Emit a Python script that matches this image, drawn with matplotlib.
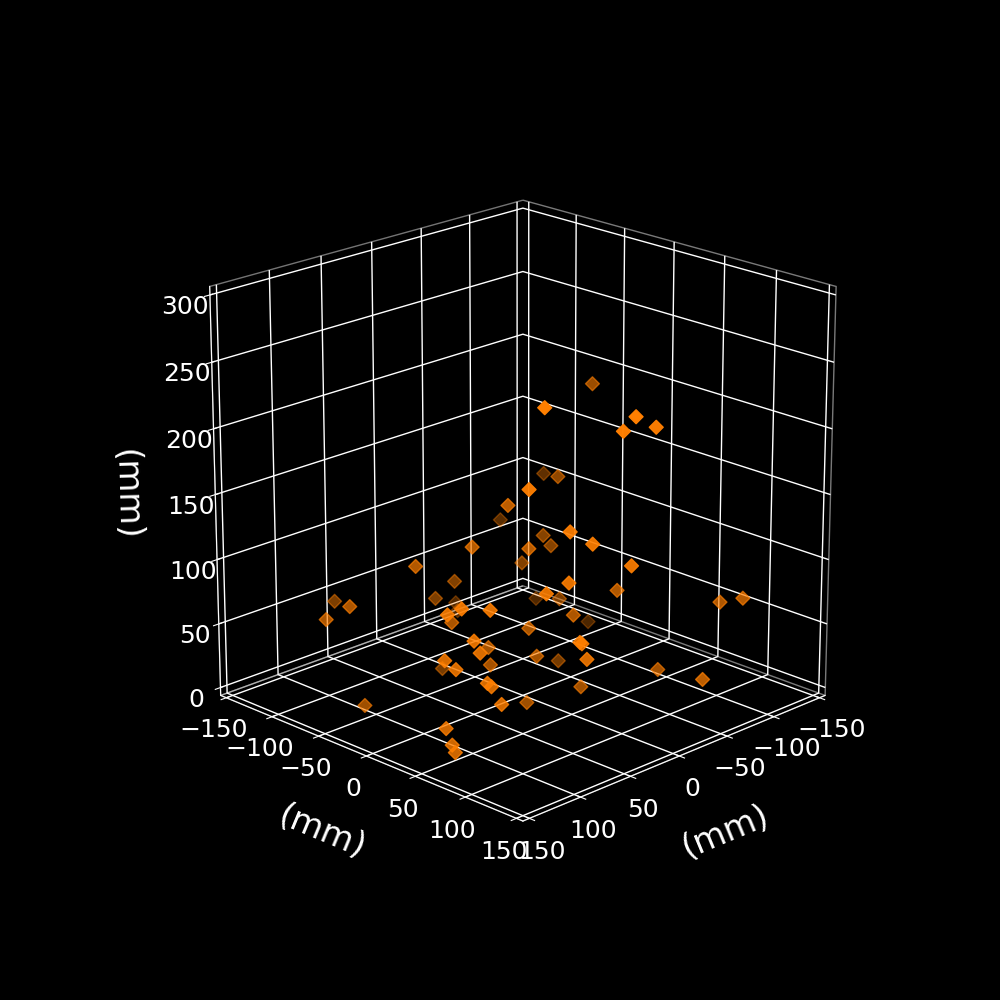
import matplotlib
matplotlib.use('Agg')
import matplotlib.pyplot as plt

plt.style.use('dark_background')
# limits get the small 1/48 margin on each side
plt.rcParams['axes3d.automargin'] = True
plt.rcParams['grid.linewidth'] = 1.0

# point positions (mm)
x_vals = [-65, 79, 36, 19, 41, -102, -47, 87, 37, -77, 67, -40, 56, 56, 28, -44, -30, 84, 37, 6, 67,
          78, -97, -49, 15, -71, -69, 68, 117, 129, -53, -55, 120, 106, 126, 5, -125, 66, 26, 114, 48, 62,
          61, 111, 23, -48, 58, 46, 128, 18, 122, -38, -31, 107, 106, 0, 100, 28, 111, 128, 126, 124, -17]
y_vals = [6, 100, 145, 148, 138, -80, -11, 93, 22, -101, 113, -19, 124, 5, 34, -15, -31, -24, 143, -65, 112,
          101, -83, -11, -76, 150, 130, -128, -58, -70, -125, -125, 60, 74, 52, 56, -55, -6, 32, 66, 13, 118,
          119, 69, 37, -11, 121, 13, 51, -66, 56, 99, 149, 72, 75, 59, 79, 32, -50, 52, 56, 57, 78]
z_vals = [220, 259, 253, 242, 242, 120, 149, 200, 157, 84, 169, 103, 160, 126, 125, 95, 81, 111, 144, 67, 131,
          123, 20, 53, 53, 92, 84, 51, 80, 70, 17, 10, 112, 111, 107, 74, 1, 68, 63, 88, 49, 87,
          86, 79, 42, 4, 74, 35, 73, 1, 66, 32, 41, 56, 54, 18, 40, 6, 4, 22, 10, 4, 93]

fig = plt.figure(figsize=(10, 10), dpi=100)
ax = fig.add_subplot(111, projection='3d')
ax.scatter(x_vals, y_vals, z_vals, c='#ff7f00', marker='D', s=50)
ax.set_xlim(-150, 150)
ax.set_ylim(-150, 150)
ax.set_zlim(0, 300)
ax.set_box_aspect((1, 1, 1), zoom=0.95)
ax.view_init(elev=20, azim=45)

# labels
ax.set_xlabel('(mm)', fontsize=24, labelpad=20)
ax.set_ylabel('(mm)', fontsize=24, labelpad=20)
ax.set_zlabel('(mm)', fontsize=24, labelpad=21)
ax.xaxis.set_rotate_label(True)
ax.yaxis.set_rotate_label(True)
ax.zaxis.set_rotate_label(True)
ax.tick_params(labelsize=18)

# see-through panes
ax.xaxis.pane.fill = False
ax.yaxis.pane.fill = False
ax.zaxis.pane.fill = False
fig.savefig('out.png', dpi=100)
